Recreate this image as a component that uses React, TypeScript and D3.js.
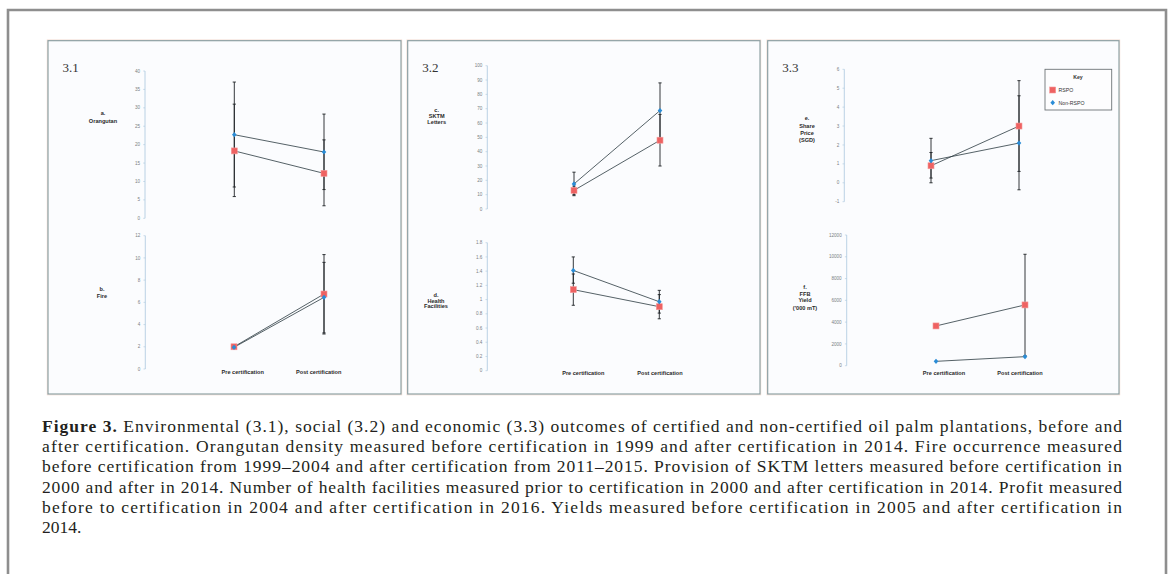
import React from "react"
import * as d3 from "d3"

// ---- data ----
const categories = ["Pre certification", "Post certification"]
const seriesNames = ["RSPO", "Non-RSPO"]

// a. Orangutan density
const orangutanTicks = [0, 5, 10, 15, 20, 25, 30, 35, 40]
const orangutanRspo = [18.3, 12.2]
const orangutanRspoLo = [5.9, 3.4]
const orangutanRspoHi = [31.0, 21.3]
const orangutanNon = [22.7, 18.0]
const orangutanNonLo = [8.5, 7.8]
const orangutanNonHi = [37.0, 28.3]

// b. Fire
const fireTicks = [0, 2, 4, 6, 8, 10, 12]
const fireRspo = [2.0, 6.75]
const fireRspoLo = [2.0, 3.15]
const fireRspoHi = [2.0, 10.3]
const fireNon = [1.95, 6.45]
const fireNonLo = [1.95, 3.25]
const fireNonHi = [1.95, 9.6]

// c. SKTM letters
const sktmTicks = [0, 10, 20, 30, 40, 50, 60, 70, 80, 90, 100]
const sktmRspo = [13, 48]
const sktmRspoLo = [10, 30]
const sktmRspoHi = [16, 66]
const sktmNon = [17.5, 68.7]
const sktmNonLo = [9.3, 49.4]
const sktmNonHi = [25.7, 88]

// d. Health facilities
const healthTicks = [0, 0.2, 0.4, 0.6, 0.8, 1, 1.2, 1.4, 1.6, 1.8]
const healthRspo = [1.14, 0.9]
const healthRspoLo = [0.92, 0.73]
const healthRspoHi = [1.36, 1.07]
const healthNon = [1.41, 0.97]
const healthNonLo = [1.23, 0.81]
const healthNonHi = [1.6, 1.13]

// e. Share price
const shareTicks = [-1, 0, 1, 2, 3, 4, 5, 6]
const shareRspo = [0.9, 3.0]
const shareRspoLo = [0.25, 0.6]
const shareRspoHi = [1.6, 5.4]
const shareNon = [1.17, 2.1]
const shareNonLo = [0, -0.37]
const shareNonHi = [2.35, 4.6]

// f. FFB yield
const yieldTicks = [0, 2000, 4000, 6000, 8000, 10000, 12000]
const yieldRspo = [3650, 5580]
const yieldRspoLo = [3650, 920]
const yieldRspoHi = [3650, 10230]
const yieldNon = [400, 830]
const yieldNonLo = [400, 830]
const yieldNonHi = [400, 830]

const captionLines = [
  "after certification. Orangutan density measured before certification in 1999 and after certification in 2014. Fire occurrence measured",
  "before certification from 1999\u20132004 and after certification from 2011\u20132015. Provision of SKTM letters measured before certification in",
  "2000 and after in 2014. Number of health facilities measured prior to certification in 2000 and after certification in 2014. Profit measured",
  "before to certification in 2004 and after certification in 2016. Yields measured before certification in 2005 and after certification in",
]

// ---- layout ----
const W = 1169
const H = 574
const RED = "#ee6262"
const BLUE = "#2a8cd6"
const SANS = "'Liberation Sans', Arial, sans-serif"
const SERIF = "'Liberation Serif', 'Times New Roman', serif"

type Spec = {
  label: string[]
  ticks: number[]
  rspo: number[]; rspoLo: number[]; rspoHi: number[]
  non: number[]; nonLo: number[]; nonHi: number[]
  axisX: number; yBottom: number; yTop: number
  xPre: number; xPost: number
  labelX: number; labelY: number[]
  catX?: number[]; catY?: number
}

const specs: Spec[] = [
  {
    label: ["a.", "Orangutan"], ticks: orangutanTicks,
    rspo: orangutanRspo, rspoLo: orangutanRspoLo, rspoHi: orangutanRspoHi,
    non: orangutanNon, nonLo: orangutanNonLo, nonHi: orangutanNonHi,
    axisX: 145, yBottom: 218.3, yTop: 71, xPre: 234.3, xPost: 324,
    labelX: 103, labelY: [115, 122.7],
  },
  {
    label: ["b.", "Fire"], ticks: fireTicks,
    rspo: fireRspo, rspoLo: fireRspoLo, rspoHi: fireRspoHi,
    non: fireNon, nonLo: fireNonLo, nonHi: fireNonHi,
    axisX: 145.3, yBottom: 369, yTop: 235.7, xPre: 234, xPost: 324,
    labelX: 102, labelY: [290.7, 298], catX: [242.7, 318.7], catY: 374,
  },
  {
    label: ["c.", "SKTM", "Letters"], ticks: sktmTicks,
    rspo: sktmRspo, rspoLo: sktmRspoLo, rspoHi: sktmRspoHi,
    non: sktmNon, nonLo: sktmNonLo, nonHi: sktmNonHi,
    axisX: 487.3, yBottom: 209, yTop: 65.7, xPre: 574, xPost: 660,
    labelX: 436.7, labelY: [112, 118, 124],
  },
  {
    label: ["d.", "Health", "Facilities"], ticks: healthTicks,
    rspo: healthRspo, rspoLo: healthRspoLo, rspoHi: healthRspoHi,
    non: healthNon, nonLo: healthNonLo, nonHi: healthNonHi,
    axisX: 487.3, yBottom: 370.7, yTop: 242.7, xPre: 573.3, xPost: 659.3,
    labelX: 436, labelY: [297, 302.5, 308], catX: [583.3, 660], catY: 375,
  },
  {
    label: ["e.", "Share", "Price", "(SGD)"], ticks: shareTicks,
    rspo: shareRspo, rspoLo: shareRspoLo, rspoHi: shareRspoHi,
    non: shareNon, nonLo: shareNonLo, nonHi: shareNonHi,
    axisX: 844.3, yBottom: 201.7, yTop: 69.3, xPre: 931, xPost: 1019,
    labelX: 807, labelY: [120, 127.5, 134.7, 142],
  },
  {
    label: ["f.", "FFB", "Yield", "('000 mT)"], ticks: yieldTicks,
    rspo: yieldRspo, rspoLo: yieldRspoLo, rspoHi: yieldRspoHi,
    non: yieldNon, nonLo: yieldNonLo, nonHi: yieldNonHi,
    axisX: 846.7, yBottom: 365.7, yTop: 235, xPre: 936, xPost: 1025,
    labelX: 805, labelY: [289.3, 295.8, 302.3, 310], catX: [944, 1020], catY: 375,
  },
]

const panels = [
  {title: "3.1", x0: 48, x1: 401},
  {title: "3.2", x0: 407.7, x1: 760},
  {title: "3.3", x0: 767.7, x1: 1119},
]

const ErrorBar = ({x, y0, y1}: {x: number; y0: number; y1: number}) => {
  if (Math.abs(y0 - y1) < 0.5) return null
  return (
    <g stroke="#1e2326" strokeWidth={0.9}>
      <line x1={x} x2={x} y1={y0} y2={y1}/>
      <line x1={x - 1.6} x2={x + 1.6} y1={y0} y2={y0}/>
      <line x1={x - 1.6} x2={x + 1.6} y1={y1} y2={y1}/>
    </g>
  )
}

const Square = ({x, y}: {x: number; y: number}) => (
  <rect x={x - 3} y={y - 3} width={6} height={6} fill={RED} stroke="#f59a9a" strokeWidth={0.6}/>
)

const Diamond = ({x, y}: {x: number; y: number}) => (
  <path d={`M${x},${y - 2.6}L${x + 2.3},${y}L${x},${y + 2.6}L${x - 2.3},${y}Z`} fill={BLUE}/>
)

const Subplot = ({s}: {s: Spec}) => {
  const y = d3.scaleLinear()
    .domain([s.ticks[0], s.ticks[s.ticks.length - 1]])
    .range([s.yBottom, s.yTop])
  const x = d3.scalePoint<string>().domain(categories).range([s.xPre, s.xPost])
  const line = d3.line<number>()
    .x((_, i) => x(categories[i])!)
    .y(d => y(d))

  return (
    <g>
      {/* axis */}
      <line x1={s.axisX} x2={s.axisX} y1={y.range()[0]} y2={y.range()[1]} stroke="#a9c7de" strokeWidth={0.8}/>
      {s.ticks.map(t => (
        <g key={t}>
          <line x1={s.axisX - 1.8} x2={s.axisX} y1={y(t)} y2={y(t)} stroke="#a9c7de" strokeWidth={0.6}/>
          <text x={s.axisX - 5} y={y(t)} dy="0.35em" textAnchor="end" fontFamily={SANS}
                fontSize={4.6} fill="#7a7f84">{t}</text>
        </g>
      ))}
      {/* indicator label */}
      <text fontFamily={SANS} fontSize={5.6} fontWeight="bold" fill="#2a2a2a" textAnchor="middle">
        {s.label.map((l, i) => (
          <tspan key={i} x={s.labelX} y={s.labelY[i]}>{l}</tspan>
        ))}
      </text>
      {/* error bars */}
      {categories.map((c, i) => (
        <g key={c}>
          <ErrorBar x={x(c)!} y0={y(s.rspoLo[i])} y1={y(s.rspoHi[i])}/>
          <ErrorBar x={x(c)!} y0={y(s.nonLo[i])} y1={y(s.nonHi[i])}/>
        </g>
      ))}
      {/* connecting lines */}
      <path d={line(s.rspo)!} fill="none" stroke="#2b3a40" strokeWidth={0.8}/>
      <path d={line(s.non)!} fill="none" stroke="#2b3a40" strokeWidth={0.8}/>
      {/* markers */}
      {categories.map((c, i) => <Square key={c} x={x(c)!} y={y(s.rspo[i])}/>)}
      {categories.map((c, i) => <Diamond key={c} x={x(c)!} y={y(s.non[i])}/>)}
      {/* category labels */}
      {s.catX && categories.map((c, i) => (
        <text key={c} x={s.catX![i]} y={s.catY} textAnchor="middle" fontFamily={SANS}
              fontSize={5.6} fontWeight="bold" fill="#2a2a2a">{c}</text>
      ))}
    </g>
  )
}

const Legend = () => (
  <g fontFamily={SANS} fontSize={5.2} fill="#333">
    <rect x={1045} y={69.3} width={66.7} height={40.7} fill="#fdfdfe" stroke="#6e7478" strokeWidth={0.9}/>
    <text x={1078} y={78.5} textAnchor="middle" fontWeight="bold">Key</text>
    <Square x={1052.7} y={90}/>
    <text x={1058.5} y={90} dy="0.35em">{seriesNames[0]}</text>
    <Diamond x={1052.7} y={102.7}/>
    <text x={1058.5} y={102.7} dy="0.35em">{seriesNames[1]}</text>
  </g>
)

export default function App() {
  return (
    <svg width={W} height={H} viewBox={`0 0 ${W} ${H}`}
         style={{position: "absolute", left: 0, top: 0, background: "#fff"}}>
      {/* outer frame */}
      <path d="M8,574V10H1166V574" fill="none" stroke="#8e8e8e" strokeWidth={2.6}/>
      {/* panels */}
      {panels.map(p => (
        <g key={p.title}>
          <rect x={p.x0 - 0.8} y={39.9} width={p.x1 - p.x0 + 1.6} height={355} fill="none"
                stroke="#f2d9cf" strokeWidth={0.8}/>
          <rect x={p.x0} y={40.7} width={p.x1 - p.x0} height={353.3} fill="#fbfcfe"
                stroke="#85999c" strokeWidth={1.1}/>
          <text x={p.x0 + 14.5} y={72.3} fontFamily={SERIF} fontSize={13} fill="#333">{p.title}</text>
        </g>
      ))}
      {specs.map((s, i) => <Subplot key={i} s={s}/>)}
      <Legend/>
      {/* caption */}
      <g fontFamily={SERIF} fontSize={17.5} fill="#231f20">
        <text x={42} y={431.7} textLength={1080} lengthAdjust="spacing">
          <tspan fontWeight="bold">Figure 3.</tspan>
          <tspan> Environmental (3.1), social (3.2) and economic (3.3) outcomes of certified and non-certified oil palm plantations, before and</tspan>
        </text>
        {captionLines.map((l, i) => (
          <text key={i} x={42} y={451.9 + i * 20.3} textLength={1080} lengthAdjust="spacing">{l}</text>
        ))}
        <text x={42} y={533.3}>2014.</text>
      </g>
    </svg>
  )
}
